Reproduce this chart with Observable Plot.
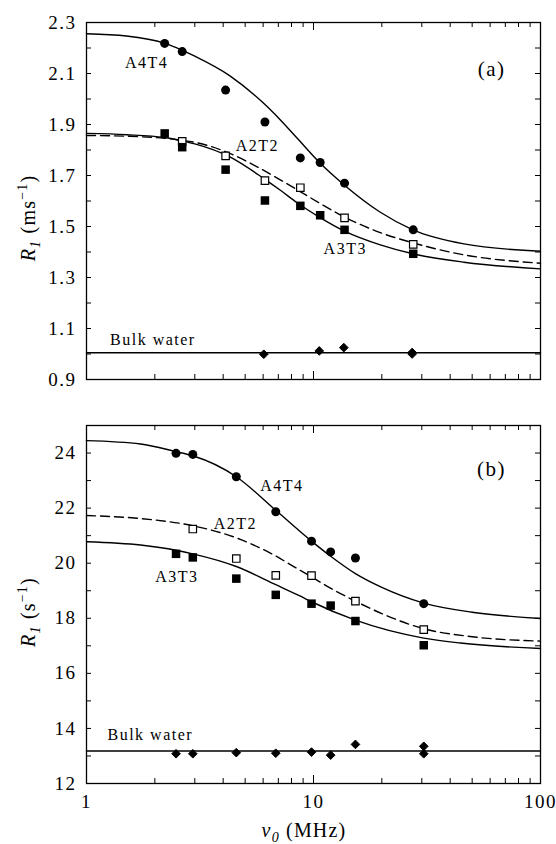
<!DOCTYPE html>
<html>
<head>
<meta charset="utf-8">
<script src="https://cdn.jsdelivr.net/npm/d3@7"></script>
<script src="https://cdn.jsdelivr.net/npm/@observablehq/plot@0.6"></script>
<style>
  body { margin: 0; background: #fff; }
  #wrap { position: relative; width: 556px; height: 844px; font-family: "Liberation Serif", "Times New Roman", serif; color: #000; }
  #wrap svg { display: block; }
  .ttl { position: absolute; white-space: nowrap; font-size: 20px; letter-spacing: 1.2px; line-height: 1; }
  .rot { transform: translate(-50%, -50%) rotate(-90deg); }
  .hor { transform: translate(-50%, -50%); }
  sub, sup { font-size: 70%; line-height: 0; }
</style>
</head>
<body>
<div id="wrap"></div>
<script>
// ---------- axis ticks ----------
const xTicksMajor = [1, 10, 100];
const xTicksMinor = [2, 3, 4, 5, 6, 7, 8, 9, 20, 30, 40, 50, 60, 70, 80, 90];
const xTickLabels = [1, 10, 100];
const yTicksA = [0.9, 1.0, 1.1, 1.2, 1.3, 1.4, 1.5, 1.6, 1.7, 1.8, 1.9, 2.0, 2.1, 2.2, 2.3];
const yLabelsA = [0.9, 1.1, 1.3, 1.5, 1.7, 1.9, 2.1, 2.3];
const yTicksB = [12, 13, 14, 15, 16, 17, 18, 19, 20, 21, 22, 23, 24, 25];
const yLabelsB = [12, 14, 16, 18, 20, 22, 24];

// ---------- panel (a): measured points (ms^-1) ----------
const aFreq8 = [2.21, 2.64, 4.10, 6.11, 8.75, 10.7, 13.7, 27.5];
const aA4T4 = [2.218, 2.186, 2.035, 1.910, 1.769, 1.751, 1.670, 1.487];
const aA3T3 = [1.865, 1.811, 1.723, 1.602, 1.581, 1.544, 1.487, 1.393];
const aFreqA2 = [2.64, 4.10, 6.11, 8.75, 13.7, 27.5];
const aA2T2 = [1.834, 1.777, 1.680, 1.652, 1.534, 1.430];
const aFreqBulk = [6.04, 10.6, 13.6, 27.2, 27.2];
const aBulk = [0.999, 1.012, 1.025, 1.000, 1.006];

// ---------- panel (a): fitted curves ----------
const aFitA4T4x = [1, 1.5, 2.2, 2.63, 3, 4.3, 6.0, 7.2, 8.5, 10.6, 13.7, 19.7, 27.4, 46, 100];
const aFitA4T4y = [2.256, 2.247, 2.219, 2.192, 2.168, 2.090, 1.985, 1.915, 1.845, 1.752, 1.662, 1.556, 1.487, 1.432, 1.403];
const aFitA3T3x = [1, 1.5, 2.2, 2.63, 3, 4.3, 6.0, 7.2, 8.5, 10.6, 13.7, 19.7, 27.4, 46, 100];
const aFitA3T3y = [1.865, 1.860, 1.849, 1.836, 1.824, 1.772, 1.690, 1.640, 1.592, 1.537, 1.482, 1.428, 1.393, 1.360, 1.334];
const aFitA2T2x = [1, 1.5, 2.2, 2.63, 3, 4.3, 5.46, 6.92, 8.7, 10.8, 13.7, 19.7, 27.4, 46, 100];
const aFitA2T2y = [1.857, 1.854, 1.846, 1.838, 1.830, 1.786, 1.741, 1.690, 1.638, 1.588, 1.537, 1.476, 1.436, 1.389, 1.356];
const aBulkLineX = [1, 100];
const aBulkLineY = [1.005, 1.005];

// ---------- panel (b): measured points (s^-1) ----------
const bFreq8 = [2.48, 2.94, 4.57, 6.82, 9.8, 11.9, 15.3, 30.6];
const bA4T4 = [23.99, 23.95, 23.14, 21.87, 20.80, 20.41, 20.19, 18.53];
const bA3T3 = [20.34, 20.21, 19.44, 18.85, 18.53, 18.46, 17.90, 17.02];
const bFreqA2 = [2.94, 4.57, 6.82, 9.8, 15.3, 30.6];
const bA2T2 = [21.24, 20.17, 19.56, 19.55, 18.62, 17.59];
const bFreqBulk = [2.48, 2.94, 4.57, 6.82, 9.8, 11.9, 15.3, 30.6, 30.6];
const bBulk = [13.08, 13.08, 13.12, 13.10, 13.14, 13.03, 13.42, 13.35, 13.08];

// ---------- panel (b): fitted curves ----------
const bFitA4T4x = [1, 1.73, 2.48, 2.94, 4.57, 6.82, 9.8, 11.9, 15.3, 20, 30.6, 50, 100];
const bFitA4T4y = [24.45, 24.33, 24.05, 23.90, 23.14, 21.92, 20.80, 20.25, 19.62, 19.12, 18.55, 18.22, 17.99];
const bFitA3T3x = [1, 1.73, 2.48, 2.94, 4.57, 6.82, 8.76, 9.8, 15.3, 30.6, 44.4, 100];
const bFitA3T3y = [20.78, 20.66, 20.47, 20.34, 19.88, 19.22, 18.80, 18.60, 17.93, 17.28, 17.10, 16.90];
const bFitA2T2x = [1, 1.73, 2.94, 4.57, 6.82, 7.91, 9.8, 11.5, 15.3, 20, 30.6, 50, 100];
const bFitA2T2y = [21.73, 21.62, 21.36, 20.92, 20.26, 19.95, 19.50, 19.16, 18.62, 18.17, 17.62, 17.33, 17.17];
const bBulkLineX = [1, 100];
const bBulkLineY = [13.18, 13.18];

// ---------- helpers ----------
const zip = (xs, ys) => xs.map((x, i) => ({x, y: ys[i]}));
const W = 556, ML = 86, MR = 16;
const frameW = W - ML - MR;
const SERIF = "'Liberation Serif', 'Times New Roman', serif";

function seriesMarks(s) {
  const lineOpt = {x: "x", y: "y", curve: "monotone-x", stroke: "black", strokeWidth: 1.4};
  return [
    Plot.line(zip(s.bulkLineX, s.bulkLineY), lineOpt),
    Plot.line(zip(s.fitA3x, s.fitA3y), lineOpt),
    Plot.line(zip(s.fitA4x, s.fitA4y), lineOpt),
    Plot.line(zip(s.fitA2x, s.fitA2y), {...lineOpt, strokeDasharray: "9,5"}),
    Plot.dot(zip(s.freqA2, s.a2), {x: "x", y: "y", symbol: "square", r: 4.2, fill: "white", stroke: "black", strokeWidth: 1.2}),
    Plot.dot(zip(s.freq8, s.a3), {x: "x", y: "y", symbol: "square", r: 4.8, fill: "black"}),
    Plot.dot(zip(s.freq8, s.a4), {x: "x", y: "y", symbol: "circle", r: 4.5, fill: "black"}),
    Plot.dot(zip(s.freqBulk, s.bulk), {x: "x", y: "y", symbol: "diamond2", r: 3.9, fill: "black", stroke: "black", strokeWidth: 1})
  ];
}

function panel(o) {
  const frameH = o.height - o.marginTop - o.marginBottom;
  const marks = [
    Plot.frame({stroke: "black", strokeWidth: 1.3}),
    Plot.tickY(o.yTicks, {y: d => d, insetRight: frameW - 5, stroke: "black"}),
    Plot.tickY(o.yTicks, {y: d => d, insetLeft: frameW - 5, stroke: "black"}),
    Plot.tickX(xTicksMinor, {x: d => d, insetTop: frameH - 5, stroke: "black"}),
    Plot.tickX(xTicksMinor, {x: d => d, insetBottom: frameH - 5, stroke: "black"}),
    Plot.tickX(xTicksMajor, {x: d => d, insetTop: frameH - 8, stroke: "black"}),
    Plot.tickX(xTicksMajor, {x: d => d, insetBottom: frameH - 8, stroke: "black"}),
    Plot.axisY({ticks: o.yLabels, tickSize: 0, tickPadding: 10, tickFormat: o.yFmt, label: null, anchor: "left", fontSize: 19, fontFamily: SERIF})
  ];
  if (o.showX) marks.push(Plot.axisX({ticks: xTickLabels, tickSize: 0, tickPadding: 11, tickFormat: d => String(d), label: null, anchor: "bottom", fontSize: 19, fontFamily: SERIF}));
  marks.push(...seriesMarks(o.series));
  marks.push(...o.labels.map(l => Plot.text([l.t], {x: l.x, y: l.y, text: d => d, fontSize: l.fs, fontFamily: SERIF, fill: "black"})));
  return Plot.plot({
    width: W, height: o.height,
    marginLeft: ML, marginRight: MR, marginTop: o.marginTop, marginBottom: o.marginBottom,
    style: {fontFamily: SERIF, fontSize: "16px", color: "black", background: "white", letterSpacing: "1.5px", overflow: "visible"},
    x: {type: "log", domain: [1, 100], axis: o.showX ? undefined : null},
    y: {domain: o.yDomain},
    marks
  });
}

const wrap = document.getElementById("wrap");

wrap.appendChild(panel({
  height: 400, marginTop: 22, marginBottom: 21,
  yDomain: [0.9, 2.3], yTicks: yTicksA, yLabels: yLabelsA, yFmt: d3.format(".1f"), showX: false,
  series: {
    freq8: aFreq8, a4: aA4T4, a3: aA3T3, freqA2: aFreqA2, a2: aA2T2, freqBulk: aFreqBulk, bulk: aBulk,
    fitA4x: aFitA4T4x, fitA4y: aFitA4T4y, fitA3x: aFitA3T3x, fitA3y: aFitA3T3y, fitA2x: aFitA2T2x, fitA2y: aFitA2T2y,
    bulkLineX: aBulkLineX, bulkLineY: aBulkLineY
  },
  labels: [
    {t: "A4T4", x: 1.84, y: 2.14, fs: 16},
    {t: "A2T2", x: 5.66, y: 1.817, fs: 16},
    {t: "A3T3", x: 13.8, y: 1.413, fs: 16},
    {t: "(a)", x: 60.9, y: 2.117, fs: 21},
    {t: "Bulk water", x: 1.96, y: 1.054, fs: 16}
  ]
}));

wrap.appendChild(panel({
  height: 444, marginTop: 25, marginBottom: 61,
  yDomain: [12, 25], yTicks: yTicksB, yLabels: yLabelsB, yFmt: d => String(d), showX: true,
  series: {
    freq8: bFreq8, a4: bA4T4, a3: bA3T3, freqA2: bFreqA2, a2: bA2T2, freqBulk: bFreqBulk, bulk: bBulk,
    fitA4x: bFitA4T4x, fitA4y: bFitA4T4y, fitA3x: bFitA3T3x, fitA3y: bFitA3T3y, fitA2x: bFitA2T2x, fitA2y: bFitA2T2y,
    bulkLineX: bBulkLineX, bulkLineY: bBulkLineY
  },
  labels: [
    {t: "A4T4", x: 7.25, y: 22.81, fs: 16},
    {t: "A2T2", x: 4.53, y: 21.44, fs: 16},
    {t: "A3T3", x: 2.5, y: 19.5, fs: 16},
    {t: "(b)", x: 60.9, y: 23.41, fs: 21},
    {t: "Bulk water", x: 1.91, y: 13.75, fs: 16}
  ]
}));

function addTitle(html, left, top, cls) {
  const d = document.createElement("div");
  d.className = "ttl " + cls;
  d.style.left = left + "px";
  d.style.top = top + "px";
  d.innerHTML = html;
  wrap.appendChild(d);
}
addTitle('<i>R</i><sub><i>1</i></sub> (ms<sup>−1</sup>)', 28, 218, "rot");
addTitle('<i>R</i><sub><i>1</i></sub> (s<sup>−1</sup>)', 28, 612, "rot");
addTitle('<i>ν</i><sub><i>0</i></sub> (MHz)', 304, 830, "hor");
</script>
</body>
</html>
